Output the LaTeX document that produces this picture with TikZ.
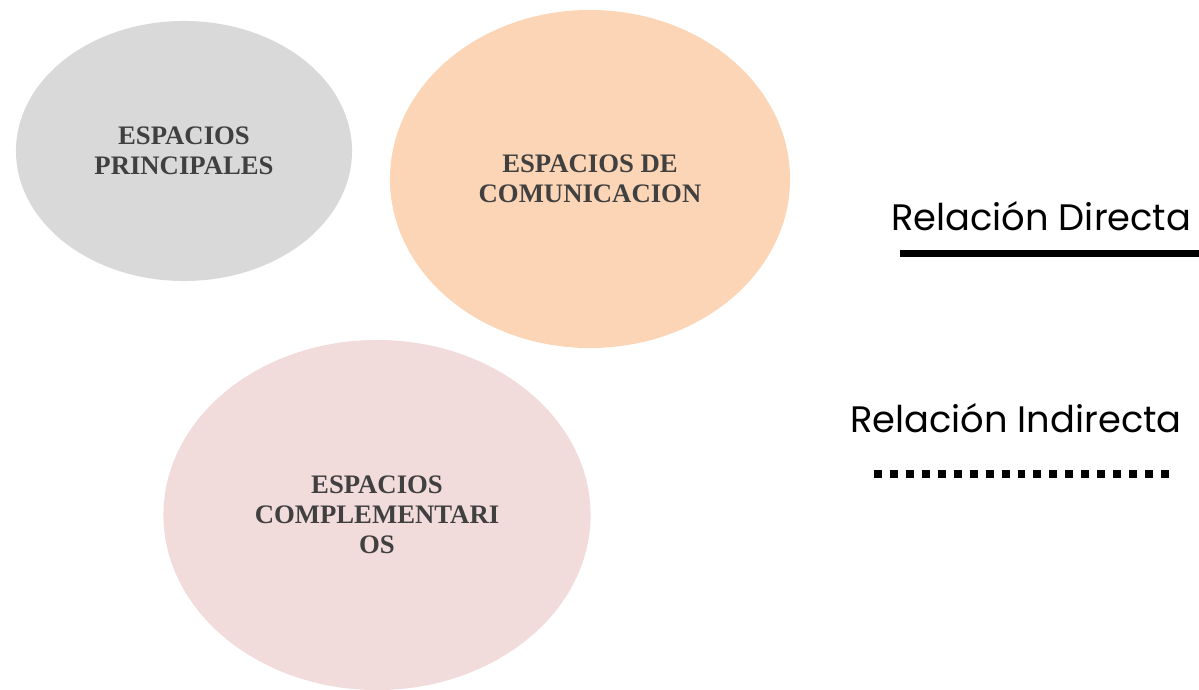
\documentclass[tikz,border=0pt]{standalone}
\usepackage{fontspec}
\setmainfont{Liberation Serif}
\newfontfamily\legendfont{Poppins}
\usepackage{xcolor}
\usetikzlibrary{positioning,shapes.geometric}
\definecolor{fog}{HTML}{D9D9D9}
\definecolor{peach}{HTML}{FBD5B5}
\definecolor{blush}{HTML}{F2DCDB}
\definecolor{ink}{HTML}{404040}

\begin{document}
\begin{tikzpicture}[x=0.025cm, y=-0.025cm,
    space/.style={ellipse, draw=none, inner sep=0pt, align=center, text=ink, font=\bfseries\fontsize{19}{21.5}\selectfont},
    legend/.style={anchor=base west, inner sep=0pt, font=\legendfont\fontsize{26.2}{30}\selectfont},
    direct/.style={line width=5pt},
    indirect/.style={line width=5.67pt, dash pattern=on 5.67pt off 5.67pt}
]
    \useasboundingbox (0,0) rectangle (1199,690);

    % Spaces
    \node[space, fill=fog, minimum width=8.4cm, minimum height=6.5cm] (principales) at (184,151) {ESPACIOS\\PRINCIPALES};
    \node[space, fill=peach, minimum width=10cm, minimum height=8.45cm] (comunicacion) at (590,179) {ESPACIOS DE\\COMUNICACION};
    \node[space, fill=blush, minimum width=10.675cm, minimum height=8.75cm] (complementarios) at (377,515) {ESPACIOS\\COMPLEMENTARI\\OS};

    % Legend
    \node[legend] (directa) at (891,230) {Relación Directa};
    \node[legend] (indirecta) at (850,432) {Relación Indirecta};
    \coordinate (d1) at (900,253.5);
    \coordinate (d2) at (1199,253.5);
    \coordinate (i1) at (874,474);
    \coordinate (i2) at (1170,474);
    \draw[direct] (d1) -- (d2);
    \draw[indirect] (i1) -- (i2);
\end{tikzpicture}
\end{document}
